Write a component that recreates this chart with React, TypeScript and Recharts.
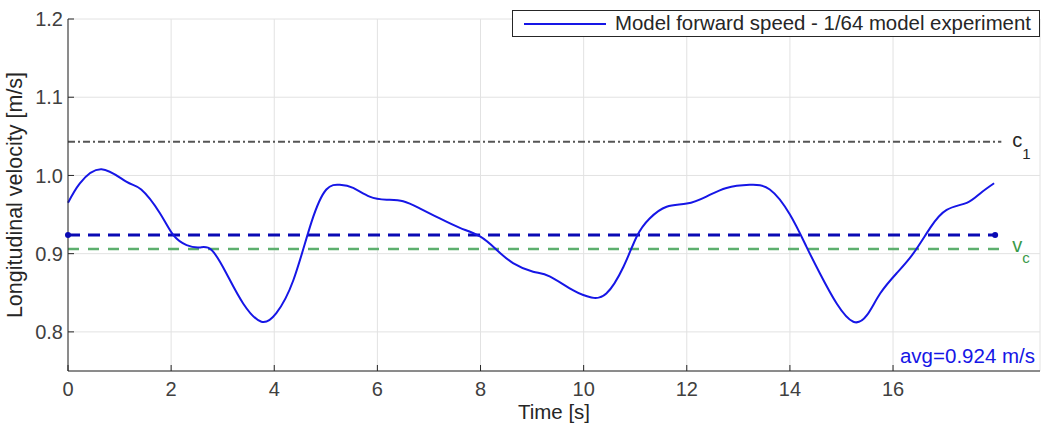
import {
  LineChart,
  Line,
  XAxis,
  YAxis,
  CartesianGrid,
  ReferenceDot,
} from "recharts";

const times = [
  0, 0.23, 0.65, 1.13, 1.42, 1.78, 2.04, 2.3, 2.55, 2.78, 3.07, 3.4, 3.75,
  4.04, 4.37, 4.72, 5.01, 5.27, 5.53, 5.85, 6.18, 6.5, 6.82, 7.21, 7.6, 7.99,
  8.31, 8.63, 9.02, 9.34, 9.8, 10.15, 10.44, 10.77, 11.03, 11.28, 11.61, 12.0,
  12.38, 12.77, 13.22, 13.61, 14.0, 14.32, 14.58, 14.91, 15.23, 15.49, 15.75,
  16.07, 16.39, 16.72, 17.04, 17.43, 17.69, 17.96,
];
const speed = [
  0.965, 0.99, 1.008, 0.992, 0.982, 0.952, 0.924, 0.911, 0.908, 0.905, 0.875,
  0.836, 0.813, 0.824, 0.866, 0.94, 0.982, 0.988, 0.984, 0.973, 0.969, 0.967,
  0.958, 0.945, 0.933, 0.922, 0.905, 0.888, 0.877, 0.871, 0.853, 0.844, 0.849,
  0.883, 0.922, 0.945, 0.96, 0.964, 0.973, 0.984, 0.988, 0.982, 0.95, 0.909,
  0.875, 0.836, 0.813, 0.821, 0.849, 0.875, 0.9, 0.933, 0.956, 0.965, 0.977,
  0.99,
];

const xTicks = [0, 2, 4, 6, 8, 10, 12, 14, 16];
const yTicks = [0.8, 0.9, 1.0, 1.1, 1.2];

const c1Value = 1.043;
const avgValue = 0.924;
const vcValue = 0.906;
const refStart = 0;
const refEnd = 18.1;
const avgEnd = 17.98;

const data = times.map((t, i) => ({ t, v: speed[i] }));
const c1Line = [
  { t: refStart, v: c1Value },
  { t: refEnd, v: c1Value },
];
const avgLine = [
  { t: refStart, v: avgValue },
  { t: avgEnd, v: avgValue },
];
const vcLine = [
  { t: refStart, v: vcValue },
  { t: refEnd, v: vcValue },
];

const font = "'Liberation Sans', Arial, sans-serif";
const ink = "#262626";
const tickStyle = { fontSize: 20, fill: "#404040", fontFamily: font };

export default function App() {
  return (
    <div style={{ position: "absolute", left: 0, top: 0, fontFamily: font }}>
      <LineChart
        width={1058}
        height={428}
        data={data}
        margin={{ top: 19, right: 18, bottom: 0, left: 8 }}
      >
        <CartesianGrid stroke="#e2e2e2" horizontal vertical />
        <XAxis
          dataKey="t"
          type="number"
          domain={[0, 18.85]}
          ticks={xTicks}
          height={57}
          stroke={ink}
          tickSize={-6}
          tickMargin={17}
          tick={tickStyle}
          label={{
            value: "Time [s]",
            position: "insideBottom",
            offset: 9,
            style: { fontSize: 20.5, fill: ink, fontFamily: font },
          }}
        />
        <XAxis
          xAxisId="top"
          dataKey="t"
          type="number"
          orientation="top"
          domain={[0, 18.85]}
          ticks={xTicks}
          height={0}
          stroke={ink}
          tickSize={-6}
          tick={false}
        />
        <YAxis
          type="number"
          domain={[0.75, 1.2]}
          ticks={yTicks}
          width={60}
          stroke={ink}
          tickSize={-6}
          tickMargin={11}
          tick={tickStyle}
          tickFormatter={(v: number) => v.toFixed(1)}
          label={{
            value: "Longitudinal velocity [m/s]",
            angle: -90,
            position: "insideLeft",
            offset: 6,
            style: { fontSize: 21.5, fill: ink, fontFamily: font, textAnchor: "middle" },
          }}
        />
        <YAxis
          yAxisId="right"
          type="number"
          orientation="right"
          domain={[0.75, 1.2]}
          ticks={yTicks}
          width={0}
          stroke={ink}
          tickSize={-6}
          tick={false}
        />
        <Line
          data={c1Line}
          dataKey="v"
          stroke="#555555"
          strokeWidth={2}
          strokeDasharray="7 3 2 3"
          dot={false}
          isAnimationActive={false}
        />
        <Line
          data={vcLine}
          dataKey="v"
          stroke="#5daf6e"
          strokeWidth={2.5}
          strokeDasharray="11 9"
          dot={false}
          isAnimationActive={false}
        />
        <Line
          data={avgLine}
          dataKey="v"
          stroke="#0a0ab4"
          strokeWidth={3}
          strokeDasharray="12 8"
          dot={{ r: 3, fill: "#0a0ab4", stroke: "none" }}
          isAnimationActive={false}
        />
        <Line
          type="natural"
          dataKey="v"
          stroke="#1616e6"
          strokeWidth={2}
          dot={false}
          isAnimationActive={false}
        />
        <ReferenceDot
          x={refEnd}
          y={c1Value}
          r={0}
          fill="none"
          stroke="none"
          ifOverflow="visible"
          label={{
            content: (p: any) => (
              <text
                x={p.viewBox.x + 11}
                y={p.viewBox.y + 5}
                fontSize={20}
                fill={ink}
                fontFamily={font}
              >
                c
                <tspan dy={12} fontSize={15}>
                  1
                </tspan>
              </text>
            ),
          }}
        />
        <ReferenceDot
          x={refEnd}
          y={vcValue}
          r={0}
          fill="none"
          stroke="none"
          ifOverflow="visible"
          label={{
            content: (p: any) => (
              <text
                x={p.viewBox.x + 11}
                y={p.viewBox.y + 3}
                fontSize={20}
                fill="#3a9a4a"
                fontFamily={font}
              >
                v
                <tspan dy={11} fontSize={15}>
                  c
                </tspan>
              </text>
            ),
          }}
        />
        <ReferenceDot
          x={18.85}
          y={0.75}
          r={0}
          fill="none"
          stroke="none"
          ifOverflow="visible"
          label={{
            content: (p: any) => (
              <text
                x={p.viewBox.x - 5}
                y={p.viewBox.y - 8}
                fontSize={20.5}
                fill="#1616e6"
                fontFamily={font}
                textAnchor="end"
              >
                avg=0.924 m/s
              </text>
            ),
          }}
        />
      </LineChart>
      <div
        style={{
          position: "absolute",
          left: 512,
          top: 10,
          width: 528,
          height: 27,
          boxSizing: "border-box",
          border: `1px solid ${ink}`,
          background: "#fff",
          display: "flex",
          alignItems: "center",
          fontSize: 20.4,
          color: ink,
          fontFamily: font,
          whiteSpace: "nowrap",
        }}
      >
        <span
          style={{
            display: "inline-block",
            width: 82,
            height: 0,
            borderTop: "2px solid #1616e6",
            marginLeft: 11,
            marginRight: 9,
          }}
        />
        Model forward speed - 1/64 model experiment
      </div>
    </div>
  );
}
